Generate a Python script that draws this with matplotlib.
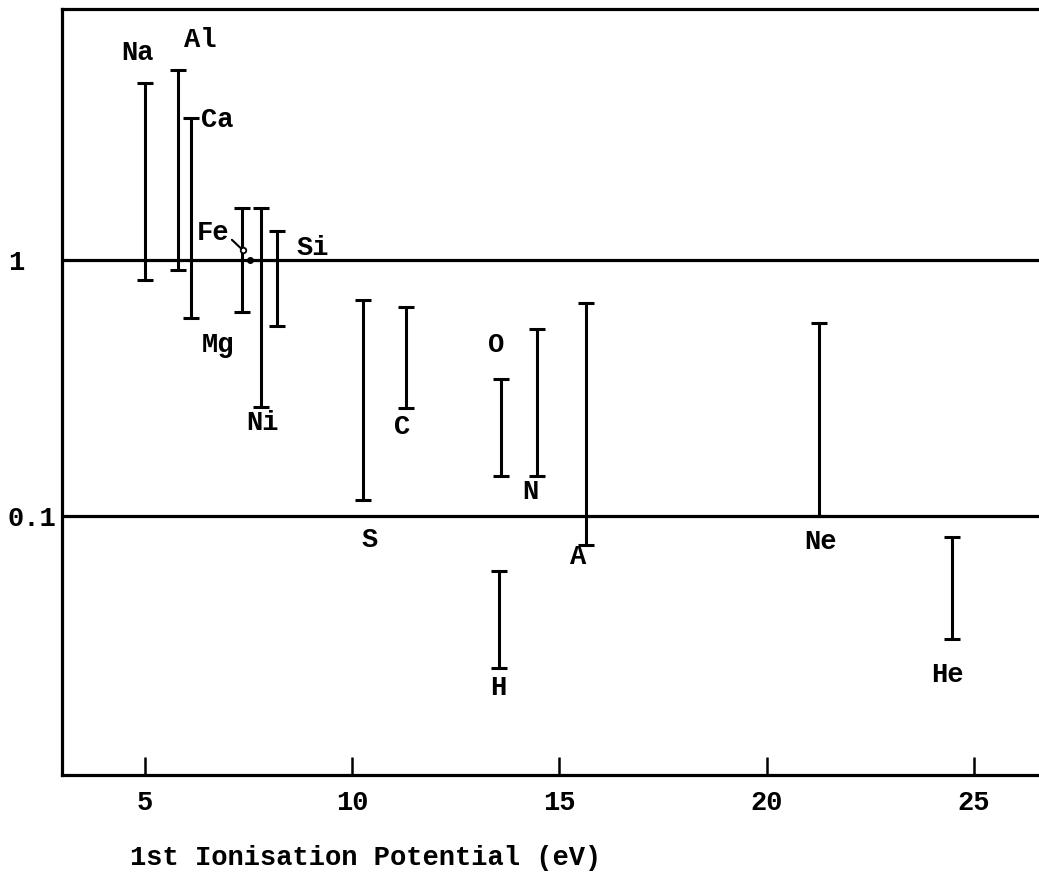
import matplotlib
matplotlib.use("Agg")
import matplotlib.pyplot as plt
from matplotlib.ticker import NullLocator

# abundance ranges against first ionisation potential
elements = ["Na", "Al", "Ca", "Mg", "Ni", "Si", "S", "C", "O", "N", "A", "H", "Ne", "He"]
ion_pot = [5.0, 5.80, 6.11, 7.34, 7.80, 8.19, 10.27, 11.30, 13.60, 14.47, 15.65, 13.55, 21.26, 24.47]
ratio_hi = [4.91, 5.52, 3.59, 1.60, 1.60, 1.30, 0.698, 0.655, 0.343, 0.537, 0.679, 0.061, 0.567, 0.0828]
ratio_lo = [0.835, 0.914, 0.593, 0.626, 0.267, 0.552, 0.1155, 0.264, 0.143, 0.143, 0.0771, 0.0255, 0.1, 0.0331]

# single point (Fe) sitting on the unity line
fe_x, fe_y = 7.54, 1.0

# label placement, data coords
label_text = ["Na", "Al", "Ca", "Fe", "Si", "Mg", "Ni", "C", "O", "N", "S", "A", "H", "Ne", "He"]
label_x = [4.81, 6.33, 6.74, 6.64, 9.06, 6.76, 7.83, 11.21, 13.48, 14.30, 10.43, 15.46, 13.53, 21.30, 24.37]
label_y = [6.44, 7.23, 3.52, 1.27, 1.11, 0.466, 0.231, 0.223, 0.466, 0.124, 0.0806, 0.0692, 0.0213, 0.0791, 0.0239]

x_ticks = [5, 10, 15, 20, 25]
y_ticks = [0.1, 1]
y_ticklabels = ["0.1", "1"]

FONT = "Liberation Mono"
FS = 19.5
plt.rcParams["font.family"] = FONT
plt.rcParams["font.weight"] = "bold"
plt.rcParams["font.size"] = FS

fig = plt.figure(figsize=(10.39, 8.84), dpi=100)
ax = fig.add_axes([62 / 1039, 1 - 775 / 884, 1 - 62 / 1039 + 0.001, (775 - 9) / 884])

ax.set_yscale("log")
ax.set_xlim(3.0, 26.6)
ax.set_ylim(0.00973, 9.56)

for yv in y_ticks:
    ax.axhline(yv, color="black", lw=2.3, zorder=1)

span = [h - l for h, l in zip(ratio_hi, ratio_lo)]
ax.errorbar(ion_pot, ratio_lo, yerr=[[0] * len(ratio_lo), span], fmt="none",
            ecolor="black", elinewidth=2.2, capsize=6, capthick=2.2, zorder=3)

ax.plot([fe_x], [fe_y], "o", color="black", ms=4, zorder=4)
ax.annotate("", xy=(7.37, 1.09), xytext=(7.05, 1.22),
            arrowprops=dict(arrowstyle="-", lw=1.5, color="black"))
ax.plot([7.37], [1.09], "o", mfc="white", mec="black", ms=4, mew=1.3, zorder=4)

for t, lx, ly in zip(label_text, label_x, label_y):
    ax.text(lx, ly, t, ha="center", va="center", fontsize=FS, fontweight="bold")

for s in ["left", "top", "bottom"]:
    ax.spines[s].set_linewidth(2.3)
ax.spines["right"].set_visible(False)

ax.set_xticks(x_ticks)
ax.set_xticklabels([str(v) for v in x_ticks])
ax.tick_params(axis="x", direction="in", length=13, width=1.8, pad=11, labelsize=FS)

ax.yaxis.set_minor_locator(NullLocator())
ax.set_yticks(y_ticks)
ax.set_yticklabels(y_ticklabels)
ax.tick_params(axis="y", length=0, pad=39, labelsize=FS)
for lab in ax.get_yticklabels():
    lab.set_horizontalalignment("left")

fig.text(130 / 1039, 1 - 858 / 884, "1st Ionisation Potential (eV)",
         ha="left", va="center", fontsize=FS, fontweight="bold")

fig.savefig("out.png", dpi=100)
